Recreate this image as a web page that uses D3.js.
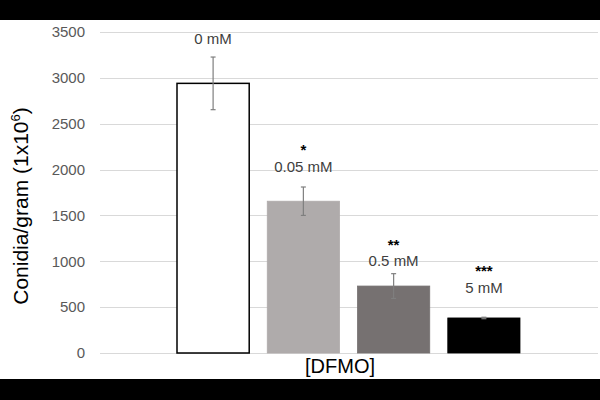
<!DOCTYPE html>
<html>
<head>
<meta charset="utf-8">
<script src="https://cdn.jsdelivr.net/npm/d3@7"></script>
<style>
  html, body { margin: 0; padding: 0; background: #fff; }
  svg { display: block; font-family: "Liberation Sans", Arial, sans-serif; }
</style>
</head>
<body>
<svg id="chart" width="600" height="400"></svg>
<script>
// ---- data ----
const categories = ["0 mM", "0.05 mM", "0.5 mM", "5 mM"];
const values = [2940, 1655, 730, 382];
const errors = [287, 155, 135, 8];
const significance = ["", "*", "**", "***"];
const yTicks = [0, 500, 1000, 1500, 2000, 2500, 3000, 3500];
const xTitle = "[DFMO]";

// ---- layout ----
const fills = ["#ffffff", "#afabab", "#767171", "#000000"];
const strokes = ["#000000", "#afabab", "#767171", "#000000"];
// label anchor levels (data units) for the concentration text and stars
const labelLevel = [3372, 1975, 945, 655];
const starLevel = [null, 2162, 1127, 840];

const svg = d3.select("#chart");
const W = 600, H = 400;

svg.append("rect").attr("x", 0).attr("y", 0).attr("width", W).attr("height", H).attr("fill", "#fff");

const y = d3.scaleLinear().domain([0, 3500]).range([353, 32]);
const x = d3.scaleBand().domain(categories).range([177, 520]).paddingInner(0.2).paddingOuter(0);

// gridlines
svg.append("g").selectAll("line").data(yTicks).join("line")
  .attr("x1", 100).attr("x2", 598)
  .attr("y1", d => Math.round(y(d)) + 0.5).attr("y2", d => Math.round(y(d)) + 0.5)
  .attr("stroke", "#d9d9d9").attr("stroke-width", 1.2);

// y axis tick labels
const yAxis = d3.axisLeft(y).tickValues(yTicks).tickSize(0).tickPadding(0).tickFormat(d3.format("d"));
const gy = svg.append("g").attr("transform", "translate(85,0)").call(yAxis);
gy.select(".domain").remove();
gy.selectAll("text").attr("font-size", 15).attr("fill", "#595959")
  .attr("font-family", "'Liberation Sans', Arial, sans-serif");

// bars
svg.append("g").selectAll("rect").data(categories).join("rect")
  .attr("x", d => x(d))
  .attr("y", (d, i) => y(values[i]))
  .attr("width", x.bandwidth())
  .attr("height", (d, i) => y(0) - y(values[i]))
  .attr("fill", (d, i) => fills[i])
  .attr("stroke", (d, i) => strokes[i])
  .attr("stroke-width", (d, i) => i === 0 ? 1.5 : 0.8);

// error bars
const eb = svg.append("g").attr("stroke", "#7f7f7f").attr("stroke-width", 1.2);
categories.forEach((c, i) => {
  const cx = x(c) + x.bandwidth() / 2;
  const top = y(values[i] + errors[i]);
  const bot = y(values[i] - errors[i]);
  eb.append("line").attr("x1", cx).attr("x2", cx).attr("y1", top).attr("y2", bot);
  eb.append("line").attr("x1", cx - 2.5).attr("x2", cx + 2.5).attr("y1", top).attr("y2", top);
  eb.append("line").attr("x1", cx - 2.5).attr("x2", cx + 2.5).attr("y1", bot).attr("y2", bot);
});

// concentration labels
svg.append("g").selectAll("text").data(categories).join("text")
  .attr("x", d => x(d) + x.bandwidth() / 2)
  .attr("y", (d, i) => y(labelLevel[i]))
  .attr("text-anchor", "middle")
  .attr("font-size", 15).attr("fill", "#404040")
  .text(d => d);

// significance stars
svg.append("g").selectAll("text").data(categories.filter((d, i) => significance[i])).join("text")
  .attr("x", d => x(d) + x.bandwidth() / 2)
  .attr("y", d => y(starLevel[categories.indexOf(d)]))
  .attr("text-anchor", "middle")
  .attr("font-size", 15).attr("font-weight", "bold").attr("fill", "#000")
  .text(d => significance[categories.indexOf(d)]);

// x title
svg.append("text").attr("x", 340).attr("y", 373).attr("text-anchor", "middle")
  .attr("font-size", 20).attr("fill", "#000").text(xTitle);

// y title
const yt = svg.append("text")
  .attr("transform", "translate(28,206) rotate(-90)")
  .attr("text-anchor", "middle")
  .attr("font-size", 21).attr("fill", "#000");
yt.append("tspan").text("Conidia/gram (1x10");
yt.append("tspan").attr("font-size", 13).attr("dy", -8).text("6");
yt.append("tspan").attr("dy", 8).text(")");

// black letterbox bands
svg.append("rect").attr("x", 0).attr("y", 0).attr("width", W).attr("height", 20).attr("fill", "#000");
svg.append("rect").attr("x", 0).attr("y", 379).attr("width", W).attr("height", 21).attr("fill", "#000");
</script>
</body>
</html>
